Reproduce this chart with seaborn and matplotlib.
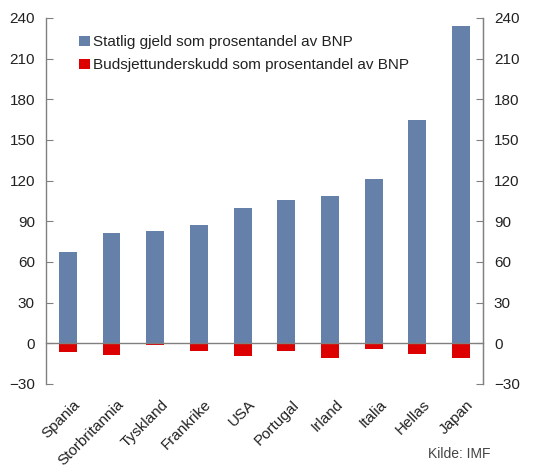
import numpy as np
import pandas as pd
import matplotlib
matplotlib.use('Agg')
import matplotlib.pyplot as plt
import matplotlib.transforms as mtransforms
import seaborn as sns

# data
countries = ['Spania', 'Storbritannia', 'Tyskland', 'Frankrike', 'USA',
             'Portugal', 'Irland', 'Italia', 'Hellas', 'Japan']
debt = [67, 81, 83, 87, 100, 106, 109, 121, 165, 234]
deficit = [-6.5, -8.5, -1.5, -6, -9.5, -6, -10.5, -4, -8, -10.5]
yticks = [-30, 0, 30, 60, 90, 120, 150, 180, 210, 240]

debt_label = 'Statlig gjeld som prosentandel av BNP'
deficit_label = 'Budsjettunderskudd som prosentandel av BNP'
source = 'Kilde: IMF'

BLUE = '#6580a9'
RED = '#dd0000'
GREY = '#808080'
TEXT = '#222222'

sns.set_style('white')
plt.rcParams['font.family'] = ['Liberation Sans', 'DejaVu Sans']

df = pd.DataFrame({'land': countries, 'gjeld': debt, 'underskudd': deficit})

fig = plt.figure(figsize=(5.48, 4.70), dpi=100)
ax = fig.add_axes([0.084, 0.183, 0.797, 0.779])

sns.barplot(data=df, x='land', y='gjeld', color=BLUE, width=0.41,
            saturation=1, label=debt_label, linewidth=0, edgecolor='none',
            ax=ax)
sns.barplot(data=df, x='land', y='underskudd', color=RED, width=0.41,
            saturation=1, label=deficit_label, linewidth=0, edgecolor='none',
            ax=ax)

ax.set_xlim(-0.5, len(countries) - 0.5)
ax.set_ylim(yticks[0], yticks[-1])
ax.set_yticks(yticks)
ax.set_xlabel('')
ax.set_ylabel('')

# zero line acts as the x axis, with small ticks between categories
ax.spines['top'].set_visible(False)
ax.spines['bottom'].set_position(('data', 0))
ax.spines['bottom'].set_color(GREY)
ax.spines['bottom'].set_linewidth(1.0)
ax.set_xticks(np.arange(len(countries)) + 0.5, minor=True)
ax.tick_params(axis='x', which='minor', direction='in', length=5,
               color=GREY, width=1.0)
ax.tick_params(axis='x', which='major', length=0, pad=39)
ax.set_xticks(np.arange(len(countries)))
ax.set_xticklabels(countries, rotation=45, ha='right',
                   rotation_mode='anchor', fontsize=11, color=TEXT)
shift = mtransforms.ScaledTranslation(4 / 72, 0, fig.dpi_scale_trans)
for lbl in ax.get_xticklabels():
    lbl.set_transform(lbl.get_transform() + shift)

for side in ['left', 'right']:
    ax.spines[side].set_color(GREY)
    ax.spines[side].set_linewidth(1.0)
ax.tick_params(axis='y', direction='in', length=5, color=GREY,
               labelsize=11, labelcolor=TEXT, pad=8)

ax2 = ax.twinx()
ax2.set_ylim(ax.get_ylim())
ax2.set_yticks(yticks)
ax2.spines['top'].set_visible(False)
ax2.spines['bottom'].set_visible(False)
ax2.spines['left'].set_visible(False)
ax2.spines['right'].set_color(GREY)
ax2.tick_params(axis='y', direction='in', length=5, color=GREY,
                labelsize=11, labelcolor=TEXT, pad=8)

ax.legend(loc='upper left', bbox_to_anchor=(0.044, 0.99), frameon=False,
          fontsize=11, handlelength=0.7, handleheight=0.7,
          handletextpad=0.2, labelspacing=0.6, labelcolor=TEXT)

fig.text(0.895, 0.02, source, ha='right', va='bottom', fontsize=10,
         color='#444444')

fig.savefig('out.png', dpi=100)
